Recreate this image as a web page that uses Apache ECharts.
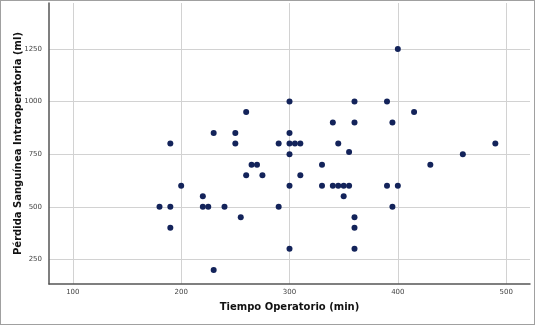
<!DOCTYPE html>
<html>
<head>
<meta charset="utf-8">
<script src="https://cdn.jsdelivr.net/npm/echarts@6/dist/echarts.min.js"></script>
<style>
  html, body { margin: 0; padding: 0; background: #fff; }
  #chart { width: 533px; height: 323px; border: 1px solid #a0a0a0; }
</style>
</head>
<body>
<div id="chart"></div>
<script>
// tiempo operatorio (min)
const tiempo = [180, 190, 190, 190, 200, 220, 220, 225, 230, 230, 240, 250, 250, 255, 260, 260, 265, 270, 275,
  290, 290, 300, 300, 300, 300, 300, 300, 305, 310, 310, 330, 330, 340, 340, 345, 345, 350, 350, 355, 355,
  360, 360, 360, 360, 360, 390, 390, 395, 395, 400, 400, 415, 430, 460, 490];
// perdida sanguinea (ml)
const perdida = [500, 500, 400, 800, 600, 550, 500, 500, 850, 200, 500, 850, 800, 450, 950, 650, 700, 700, 650,
  800, 500, 1000, 850, 800, 750, 600, 300, 800, 800, 650, 700, 600, 900, 600, 800, 600, 600, 550, 600, 760,
  1000, 900, 450, 400, 300, 1000, 600, 900, 500, 1250, 600, 950, 700, 750, 800];
const xTicks = [100, 200, 300, 400, 500];
const yTicks = [250, 500, 750, 1000, 1250];

const points = tiempo.map((t, i) => [t, perdida[i]]);

const chart = echarts.init(document.getElementById('chart'));
const nameFont = { fontFamily: 'DejaVu Sans', fontWeight: 'bold', fontSize: 10, color: '#111' };
chart.setOption({
  animation: false,
  grid: { left: 48, right: 4, top: 2, bottom: 40, outerBoundsMode: 'none' },
  xAxis: {
    type: 'value',
    min: 78, max: 522,
    name: 'Tiempo Operatorio (min)',
    nameLocation: 'middle',
    nameGap: 18,
    nameTextStyle: nameFont,
    axisLine: { show: true, lineStyle: { color: '#555', width: 1.5 } },
    axisTick: { show: false, customValues: xTicks },
    axisLabel: {
      color: '#444', fontSize: 7, fontFamily: 'DejaVu Sans', margin: 5,
      customValues: xTicks,
      formatter: v => String(v)
    },
    splitLine: { show: true, lineStyle: { color: '#d2d2d2' } }
  },
  yAxis: {
    type: 'value',
    min: 133, max: 1468,
    name: 'Pérdida Sanguínea Intraoperatoria (ml)',
    nameLocation: 'middle',
    nameGap: 26,
    nameMoveOverlap: false,
    nameTextStyle: nameFont,
    axisLine: { show: true, lineStyle: { color: '#555', width: 1.5 } },
    axisTick: { show: false, customValues: yTicks },
    axisLabel: {
      color: '#444', fontSize: 7, fontFamily: 'DejaVu Sans', margin: 7,
      customValues: yTicks,
      formatter: v => String(v)
    },
    splitLine: { show: true, lineStyle: { color: '#d2d2d2' } }
  },
  series: [{
    type: 'scatter',
    data: points,
    symbolSize: 6,
    itemStyle: { color: '#13235a', opacity: 1 }
  }]
});
</script>
</body>
</html>
